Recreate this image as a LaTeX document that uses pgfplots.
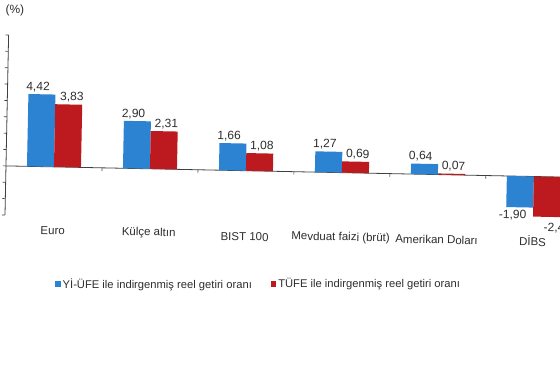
\documentclass[border=0pt]{standalone}
\usepackage{fontspec}
\setmainfont{Liberation Sans}
\usepackage{pgfplots}
\pgfplotsset{compat=1.18}
\definecolor{barblue}{RGB}{43,131,210}
\definecolor{barred}{RGB}{188,26,30}
\definecolor{txt}{RGB}{45,45,45}
\pgfplotstableread{
x y dx dy
0 4.42 -4 0
1 2.90 -4 0
2 1.66 -4 0
3 1.27 -4 0
4 0.64 -4 0
5 -1.90 -7 -1
}\blue
\pgfplotstableread{
x y dx dy
0 3.83 3 0
1 2.31 2 0
2 1.08 2 0
3 0.69 2 0
4 0.07 2 0
5 -2.45 11 -4
}\red
\begin{document}
\begin{tikzpicture}
\begin{scope}
\clip (0pt,0pt) rectangle (560pt,380pt);
\begin{scope}[rotate around={-1.15:(6pt,215pt)}]
\begin{axis}[
  at={(6pt,165pt)}, anchor=south west,
  scale only axis, width=576pt, height=180pt,
  xmin=-0.5, xmax=5.5, ymin=-3, ymax=8,
  axis x line*=middle, axis y line*=left,
  axis line style={draw=black!75, line width=0.8pt},
  x axis line style={-}, y axis line style={-},
  xtick={0.5,1.5,2.5,3.5,4.5}, xticklabels={},
  ytick={-3,-2,...,8}, yticklabels={},
  tick align=outside, major tick length=3pt,
  tick style={black!75, line width=0.7pt},
  ybar=0pt, bar width=27pt,
  nodes near coords,
  visualization depends on={\thisrow{dx}\as\dx},
  visualization depends on={\thisrow{dy}\as\dy},
  every node near coord/.append style={font=\fontsize{12}{14}\selectfont, text=txt, inner sep=2pt,
    xshift=\dx pt, yshift=\dy pt,
    /pgf/number format/.cd, fixed, fixed zerofill, precision=2, use comma, assume math mode=true},
  clip=false,
]
\addplot[fill=barblue, draw=none] table[x=x,y=y] {\blue};
\addplot[fill=barred, draw=none] table[x=x,y=y] {\red};
\node[font=\fontsize{11.5}{13}\selectfont, text=txt] at (axis cs:0,-3) [yshift=-15pt] {Euro};
\node[font=\fontsize{11.5}{13}\selectfont, text=txt] at (axis cs:1,-3) [yshift=-15pt] {Külçe altın};
\node[font=\fontsize{11.5}{13}\selectfont, text=txt] at (axis cs:2,-3) [yshift=-17pt] {BIST 100};
\node[font=\fontsize{11.5}{13}\selectfont, text=txt] at (axis cs:3,-3) [yshift=-16pt] {Mevduat faizi (brüt)};
\node[font=\fontsize{11.5}{13}\selectfont, text=txt] at (axis cs:4,-3) [yshift=-16pt] {Amerikan Doları};
\node[font=\fontsize{11.5}{13}\selectfont, text=txt] at (axis cs:5,-3) [yshift=-15.5pt] {DİBS};
\end{axis}
\end{scope}
\begin{axis}[
  at={(6pt,165pt)}, anchor=south west,
  scale only axis, width=576pt, height=180pt,
  xmin=0, xmax=1, ymin=0, ymax=1, hide axis,
  legend style={at={(0.08,-0.383)}, anchor=west, draw=none, fill=none,
    font=\fontsize{11.2}{13}\selectfont, text=txt,
    /tikz/every even column/.append style={column sep=17pt}},
  legend columns=2,
  legend image code/.code={\fill[#1,draw=none] (0pt,-2.7pt) rectangle (5.4pt,2.7pt);},
]
\addlegendimage{fill=barblue}
\addlegendentry{Yİ-ÜFE ile indirgenmiş reel getiri oranı}
\addlegendimage{fill=barred}
\addlegendentry{TÜFE ile indirgenmiş reel getiri oranı}
\end{axis}
\node[anchor=west, font=\fontsize{12}{14}\selectfont, text=txt] at (2pt,370pt) {(\%)};
\end{scope}
\pgfresetboundingbox
\useasboundingbox (0pt,0pt) rectangle (560pt,380pt);
\end{tikzpicture}
\end{document}
